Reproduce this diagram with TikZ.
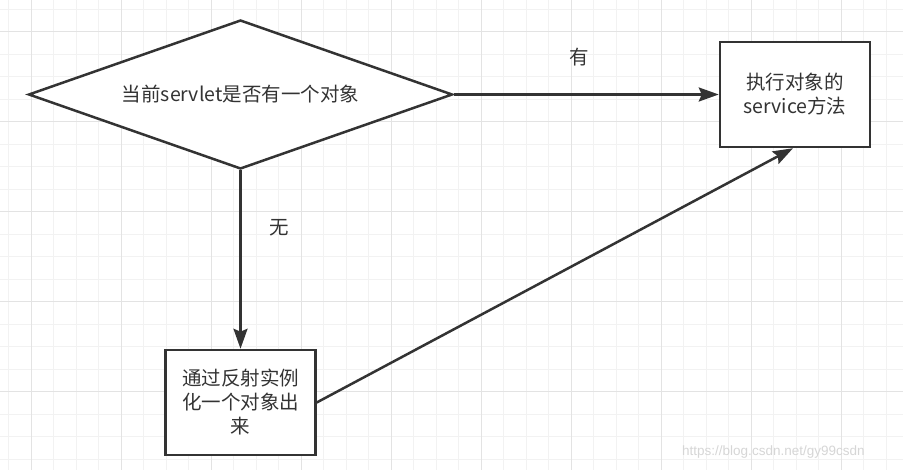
\documentclass[tikz,border=0pt]{standalone}
\usepackage{fontspec}
\setmainfont{Noto Sans CJK SC}
\newfontfamily\wmfont{Liberation Sans}
\usetikzlibrary{shapes.geometric,arrows.meta}
\definecolor{ink}{HTML}{333333}
\definecolor{gridminor}{HTML}{F2F2F2}
\definecolor{gridmajor}{HTML}{E3E3E3}
\definecolor{wm}{HTML}{D6D6D6}
\begin{document}
\begin{tikzpicture}[x=1pt,y=-1pt,
  shapeline/.style={draw=ink,line width=2.5pt,fill=white,text=ink},
  decision/.style={shapeline,diamond,shape aspect=2.85,minimum width=424pt,minimum height=149pt,inner sep=0pt,font=\fontsize{19.5}{24}\selectfont},
  procbox/.style={shapeline,rectangle,minimum width=150pt,minimum height=105pt,inner sep=0pt,align=center,font=\fontsize{19.5}{24}\selectfont},
  flow/.style={draw=ink,line width=2.5pt,-{Stealth[length=20pt,width=14pt,inset=3pt]}},
  edgelabel/.style={text=ink,font=\fontsize{19.5}{24}\selectfont},
  minorline/.style={draw=gridminor,line width=1pt},
  majorline/.style={draw=gridmajor,line width=1pt}]
\fill[white] (0,0) rectangle (903,470);
\useasboundingbox (0,0) rectangle (903,470);
% grid
\foreach \k in {0,...,39} {\pgfmathsetmacro\gx{8.5+22.5*\k}\draw[minorline] (\gx,0) -- (\gx,470);}
\foreach \k in {0,...,20} {\pgfmathsetmacro\gy{9.5+22.5*\k}\draw[minorline] (0,\gy) -- (903,\gy);}
\foreach \k in {0,...,9} {\pgfmathsetmacro\gx{31+90*\k}\draw[majorline] (\gx,0) -- (\gx,470);}
\foreach \k in {0,...,4} {\pgfmathsetmacro\gy{32+90*\k}\draw[majorline] (0,\gy) -- (903,\gy);}
% nodes
\node[decision] (d) at (240.5,94.5) {当前servlet是否有一个对象};
\node[procbox] (b2) at (795,94.5) {执行对象的\\service方法};
\node[procbox] (b1) at (240.5,402.5) {通过反射实例\\化一个对象出\\来};
% connectors
\draw[flow] (d.east) -- (b2.west);
\draw[flow] (d.south) -- (b1.north);
\draw[flow] (b1.east) -- ([xshift=-2pt]b2.south);
% labels
\node[edgelabel] (lblyes) at (579,57) {有};
\node[edgelabel] (lblno) at (279,228) {无};
\node[text=wm,font=\wmfont\fontsize{13.5}{16}\selectfont,anchor=west,inner sep=0pt] (wmark) at (682,452) {https://blog.csdn.net/gy99csdn};
\end{tikzpicture}
\end{document}
